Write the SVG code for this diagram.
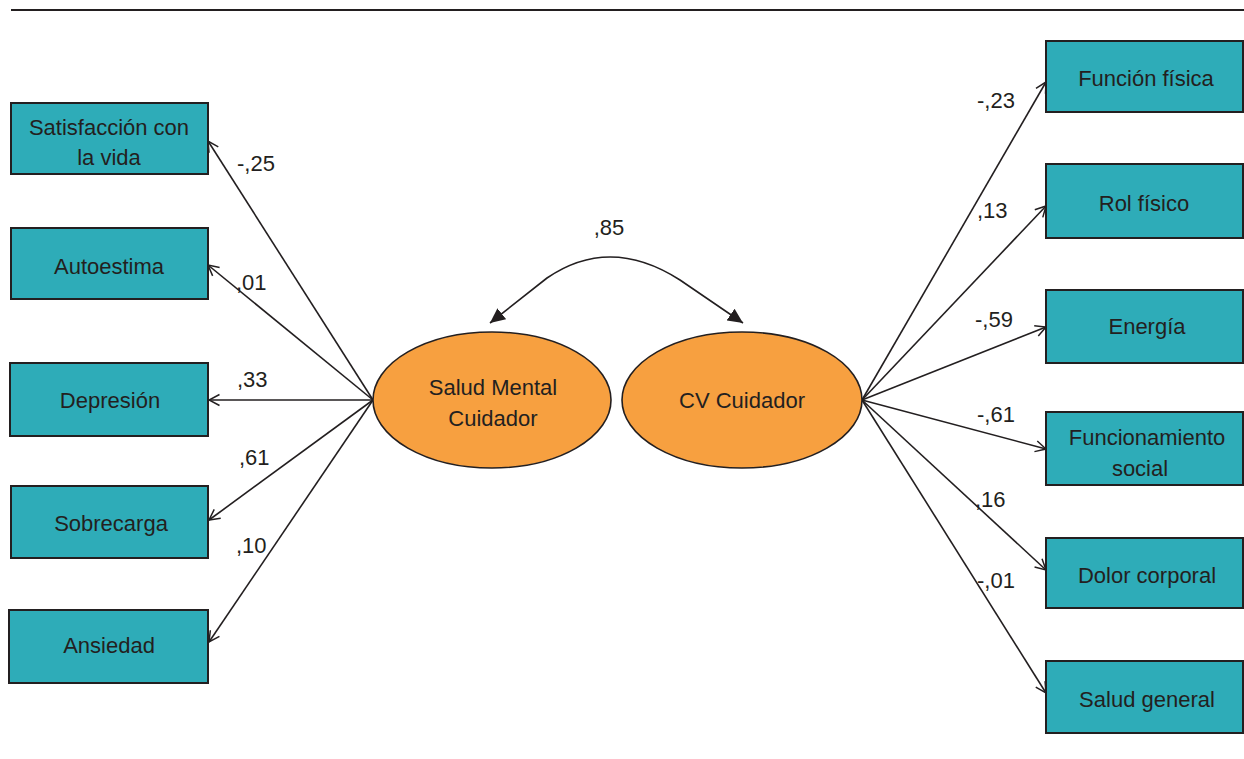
<svg xmlns="http://www.w3.org/2000/svg" width="1244" height="759" viewBox="0 0 1244 759">
<style>
.box{fill:#2eacb8;stroke:#231f20;stroke-width:2}
.ell{fill:#f7a040;stroke:#231f20;stroke-width:1.6}
text{font-family:"Liberation Sans",Arial,sans-serif;font-size:22px;fill:#231f20}
.c{text-anchor:middle}
.con{stroke:#231f20;stroke-width:1.6;fill:none}
</style>
<defs>
<marker id="open" viewBox="0 0 14 14" markerWidth="14" markerHeight="14" refX="12.5" refY="7" orient="auto" markerUnits="userSpaceOnUse">
<path d="M2,1.5 L12.5,7 L2,12.5" fill="none" stroke="#231f20" stroke-width="1.5"/>
</marker>
<marker id="solid" viewBox="0 0 16 16" markerWidth="16" markerHeight="16" refX="15" refY="8" orient="auto-start-reverse" markerUnits="userSpaceOnUse">
<path d="M0,1 L15,8 L0,15 Z" fill="#231f20"/>
</marker>
</defs>
<line x1="11" y1="10" x2="1244" y2="10" stroke="#231f20" stroke-width="2"/>
<g id="connectors">
<line class="con" x1="373" y1="400" x2="208" y2="141" marker-end="url(#open)"/>
<line class="con" x1="373" y1="400" x2="208" y2="265" marker-end="url(#open)"/>
<line class="con" x1="373" y1="400" x2="209" y2="400" marker-end="url(#open)"/>
<line class="con" x1="373" y1="400" x2="209" y2="520" marker-end="url(#open)"/>
<line class="con" x1="373" y1="400" x2="209" y2="642" marker-end="url(#open)"/>
<line class="con" x1="862" y1="400" x2="1046" y2="82" marker-end="url(#open)"/>
<line class="con" x1="862" y1="400" x2="1046" y2="206" marker-end="url(#open)"/>
<line class="con" x1="862" y1="400" x2="1046" y2="327" marker-end="url(#open)"/>
<line class="con" x1="862" y1="400" x2="1046" y2="449" marker-end="url(#open)"/>
<line class="con" x1="862" y1="400" x2="1046" y2="570" marker-end="url(#open)"/>
<line class="con" x1="862" y1="400" x2="1046" y2="693" marker-end="url(#open)"/>
<path class="con" d="M490,323 L547,278 Q610,235 680,280 L743,323" marker-start="url(#solid)" marker-end="url(#solid)"/>
<text x="237" y="171">-,25</text>
<text x="236" y="290">,01</text>
<text x="237" y="387">,33</text>
<text x="239" y="465">,61</text>
<text x="236" y="553">,10</text>
<text x="609" y="235" class="c">,85</text>
<text x="977" y="108">-,23</text>
<text x="977" y="218">,13</text>
<text x="975" y="327">-,59</text>
<text x="977" y="422">-,61</text>
<text x="975" y="507">,16</text>
<text x="977" y="588">-,01</text>
</g>
<g id="satisfaccion"><rect class="box" x="11" y="103" width="197" height="71"/><text class="c" x="109" y="135">Satisfacción con</text><text class="c" x="109" y="165">la vida</text></g>
<g id="autoestima"><rect class="box" x="11" y="228" width="197" height="71"/><text class="c" x="109" y="274">Autoestima</text></g>
<g id="depresion"><rect class="box" x="10" y="363" width="198" height="73"/><text class="c" x="110" y="408">Depresión</text></g>
<g id="sobrecarga"><rect class="box" x="11" y="486" width="197" height="72"/><text class="c" x="111" y="531">Sobrecarga</text></g>
<g id="ansiedad"><rect class="box" x="9" y="610" width="199" height="73"/><text class="c" x="109" y="653">Ansiedad</text></g>
<g id="salud-mental"><ellipse class="ell" cx="492" cy="400" rx="119" ry="68"/><text class="c" x="493" y="395">Salud Mental</text><text class="c" x="493" y="426">Cuidador</text></g>
<g id="cv-cuidador"><ellipse class="ell" cx="742" cy="400" rx="120" ry="68"/><text class="c" x="742" y="408">CV Cuidador</text></g>
<g id="funcion-fisica"><rect class="box" x="1046" y="41" width="197" height="71"/><text class="c" x="1146" y="86">Función física</text></g>
<g id="rol-fisico"><rect class="box" x="1046" y="164" width="197" height="74"/><text class="c" x="1144" y="211">Rol físico</text></g>
<g id="energia"><rect class="box" x="1046" y="290" width="197" height="73"/><text class="c" x="1147" y="334">Energía</text></g>
<g id="funcionamiento-social"><rect class="box" x="1046" y="412" width="197" height="73"/><text class="c" x="1147" y="445">Funcionamiento</text><text class="c" x="1140" y="476">social</text></g>
<g id="dolor-corporal"><rect class="box" x="1046" y="538" width="197" height="70"/><text class="c" x="1147" y="583">Dolor corporal</text></g>
<g id="salud-general"><rect class="box" x="1046" y="661" width="197" height="72"/><text class="c" x="1147" y="707">Salud general</text></g>
</svg>
